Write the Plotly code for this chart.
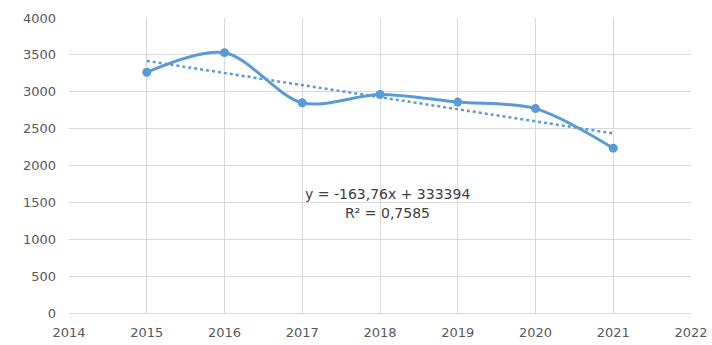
import plotly.graph_objects as go

# Yearly values
years = [2015, 2016, 2017, 2018, 2019, 2020, 2021]
values = [3265, 3530, 2850, 2962, 2860, 2772, 2235]

# Linear trend as stated by its label: y = -163,76x + 333394
trend_slope = -163.76
trend_intercept = 333394
trend_r2 = 0.7585
trend_years = [years[0], years[-1]]
trend_values = [trend_slope * x + trend_intercept for x in trend_years]

x_ticks = list(range(2014, 2023))
y_ticks = list(range(0, 4001, 500))

blue = "#5B9BD5"
grid = "#D9D9D9"
tick_font = dict(family="DejaVu Sans", size=13, color="#595959")
label_font = dict(family="DejaVu Sans", size=14, color="#404040")

fig = go.Figure()
fig.add_trace(go.Scatter(
    x=trend_years, y=trend_values, mode="lines",
    line=dict(color=blue, width=2.5, dash="dot"),
    hoverinfo="skip", showlegend=False,
))
fig.add_trace(go.Scatter(
    x=years, y=values, mode="lines+markers",
    line=dict(color=blue, width=3, shape="spline", smoothing=0.9),
    marker=dict(color=blue, size=9),
    showlegend=False,
))

eq_text = f"y = {trend_slope:.2f}x + {trend_intercept}".replace(".", ",")
r2_text = f"R² = {trend_r2}".replace(".", ",")
fig.add_annotation(x=2018.09, y=1615, xref="x", yref="y", text=eq_text,
                   showarrow=False, font=label_font)
fig.add_annotation(x=2018.09, y=1355, xref="x", yref="y", text=r2_text,
                   showarrow=False, font=label_font)

fig.update_layout(
    width=712, height=345,
    margin=dict(l=69, r=21, t=18, b=32),
    paper_bgcolor="white", plot_bgcolor="white",
)
fig.update_xaxes(
    range=[2014, 2022], tickvals=x_ticks, ticktext=[str(t) for t in x_ticks],
    showgrid=True, gridcolor=grid, gridwidth=1,
    showline=True, linecolor=grid, linewidth=1, mirror=False,
    zeroline=False, tickfont=tick_font, ticks="", ticklabelstandoff=7,
    automargin=False,
)
fig.update_yaxes(
    range=[0, 4000], tickvals=y_ticks, ticktext=[str(t) for t in y_ticks],
    showgrid=True, gridcolor=grid, gridwidth=1,
    showline=False, zeroline=False, tickfont=tick_font, ticks="",
    ticklabelstandoff=12, automargin=False,
)

fig.write_html("out.html")
